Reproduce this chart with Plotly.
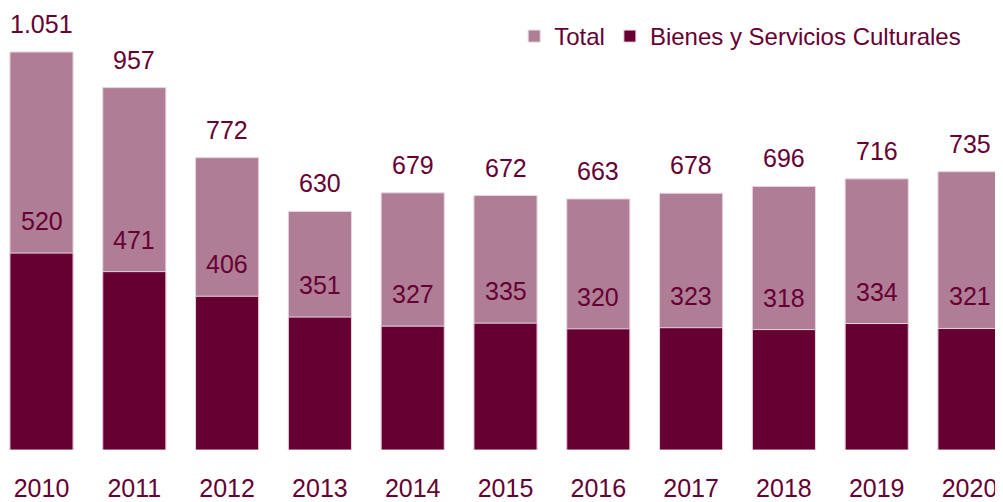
import plotly.graph_objects as go

years = ["2010", "2011", "2012", "2013", "2014", "2015", "2016", "2017", "2018", "2019", "2020"]
total = [1051, 957, 772, 630, 679, 672, 663, 678, 696, 716, 735]
bienes = [520, 471, 406, 351, 327, 335, 320, 323, 318, 334, 321]

LIGHT = "#B07D96"
DARK = "#660033"
FONT = "Liberation Sans, Arial, sans-serif"

def fmt(v):
    return f"{v:,}".replace(",", ".")

fig = go.Figure()
fig.add_trace(go.Bar(x=years, y=total, name="Total", marker_color=LIGHT,
                     marker_line=dict(color="#E8D5DE", width=1), width=0.68))
fig.add_trace(go.Bar(x=years, y=bienes, name="Bienes y Servicios Culturales", marker_color=DARK,
                     marker_line=dict(color="#E8D5DE", width=1), width=0.68))

annotations = []
for i, (t, b) in enumerate(zip(total, bienes)):
    annotations.append(dict(x=i, y=t, xref="x", yref="y", text=fmt(t), showarrow=False,
                            yanchor="bottom", yshift=13, borderpad=0,
                            font=dict(size=25, color=DARK, family=FONT)))
    annotations.append(dict(x=i, y=b, xref="x", yref="y", text=fmt(b), showarrow=False,
                            yanchor="bottom", yshift=17, borderpad=0,
                            font=dict(size=25, color=DARK, family=FONT)))

fig.update_layout(
    barmode="overlay",
    width=995, height=494,
    margin=dict(l=0, r=0, t=0, b=52),
    plot_bgcolor="white", paper_bgcolor="white",
    font=dict(family=FONT, color=DARK, size=24),
    showlegend=True,
    legend=dict(orientation="h", x=0.963, xanchor="right", y=1 - 6 / 442, yanchor="top",
                font=dict(size=24, color=DARK, family=FONT), bgcolor="rgba(0,0,0,0)",
                itemwidth=30, traceorder="normal"),
    annotations=annotations,
)
fig.update_xaxes(type="category", range=[-0.361, 10.361], showline=False, showgrid=False,
                 ticks="", tickfont=dict(size=25, color=DARK, family=FONT),
                 ticklabelstandoff=21)
fig.update_yaxes(range=[0, 1167.2], visible=False, showgrid=False)

fig.write_html("out.html")
